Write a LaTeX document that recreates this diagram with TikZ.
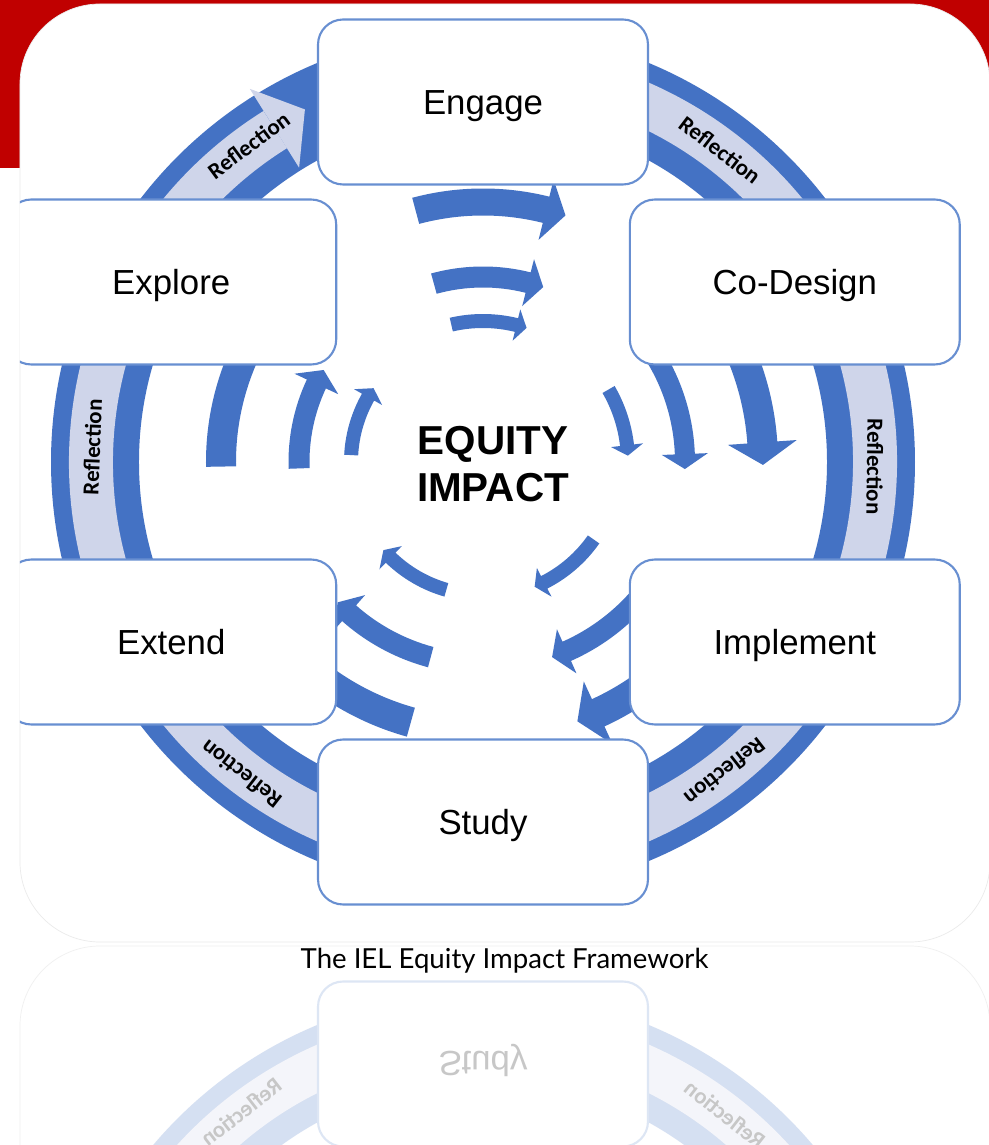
\documentclass[tikz,border=0pt]{standalone}
\usepackage{fontspec}
\setmainfont{Liberation Sans}
\newfontfamily\bandfont{Carlito}
\newfontfamily\capfont{Lato}
\definecolor{ielred}{HTML}{C00000}
\definecolor{cycleblue}{HTML}{4472C4}
\definecolor{bandlight}{HTML}{CFD5EA}
\definecolor{boxline}{RGB}{104,143,209}

\tikzset{
  stage/.style={draw=boxline, line width=1.2pt, fill=white, rounded corners=0.5cm,
    minimum width=6.6cm, minimum height=3.3cm, text height=18.8pt, text depth=4.6pt,
    font=\fontsize{19.8}{24}\selectfont},
  bandtext/.style={font=\bandfont\bfseries\fontsize{13}{15}\selectfont},
}

% curved block arrow round the centre: tail angle, tip angle, radius, shaft width
\newcommand\bendarrow[4]{%
  \pgfmathsetmacro\headbase{#2+42.97*#4/#3}%
  \pgfmathsetmacro\rin{#3-#4/2}%
  \pgfmathsetmacro\rout{#3+#4/2}%
  \pgfmathsetmacro\bin{#3-1.15*#4}%
  \pgfmathsetmacro\bout{#3+1.15*#4}%
  \fill[cycleblue] (#1:\rin) arc[start angle=#1, end angle=\headbase, radius=\rin]
    -- (\headbase:\bin) -- (#2:#3) -- (\headbase:\bout) -- (\headbase:\rout)
    arc[start angle=\headbase, end angle=#1, radius=\rout] -- cycle;
}

\newcommand\ielcycle{%
  % outer ring
  \draw[cycleblue, line width=1.76cm] (0,0) circle[radius=388];
  \draw[bandlight, line width=0.88cm] (122:392) arc[start angle=122, end angle=470, radius=392];
  \fill[bandlight] (122:347) -- (116.8:395) -- (122:440) -- cycle;
  \node[bandtext, rotate=36.5] (refa) at (126.5:394) {Reflection};
  \node[bandtext, rotate=-37.2] (refb) at (52.8:392) {Reflection};
  \node[bandtext, rotate=-90.7] (refc) at (-0.7:392) {Reflection};
  \node[bandtext, rotate=-142] (refd) at (-52:393) {Reflection};
  \node[bandtext, rotate=142.2] (refe) at (-127.8:395) {Reflection};
  \node[bandtext, rotate=87.8] (reff) at (177.8:391) {Reflection};
  % inner arrows
  \bendarrow{105}{71.5}{260}{27}
  \bendarrow{105.4}{71}{185}{21}
  \bendarrow{103}{72}{141}{14}
  \bendarrow{35}{-0.6}{280}{30}
  \bendarrow{32}{-2}{202}{20}
  \bendarrow{30}{2.5}{145}{14}
  \bendarrow{-45}{-70}{276}{30}
  \bendarrow{-38}{-70.5}{207}{21}
  \bendarrow{-35}{-67.5}{135}{14}
  \bendarrow{-105.5}{-142}{270}{30}
  \bendarrow{-105}{-136}{202}{21}
  \bendarrow{-106}{-138.5}{133}{14}
  \bendarrow{181}{145}{262}{30}
  \bendarrow{182}{150}{184}{21}
  \bendarrow{177}{146}{132}{14}
  % stages
  \node[stage] (engage) at (90:360) {Engage};
  \node[stage] (codesign) at (30:360) {Co-Design};
  \node[stage] (implement) at (-30:360) {Implement};
  \node[stage] (study) at (-90:360) {Study};
  \node[stage] (extend) at (-150:360) {Extend};
  \node[stage] (explore) at (150:360) {Explore};
  \node[font=\bfseries\fontsize{23}{27}\selectfont, align=center] (equity) at (10,-2) {EQUITY\\IMPACT};
}

\begin{document}
\begin{tikzpicture}[x=0.02cm, y=0.02cm]
  \useasboundingbox (-483,462) rectangle (506,-683);
  \fill[ielred] (-483,462) rectangle (506,294);
  \fill[white] (-483,294) rectangle (506,-683);
  \filldraw[fill=white, draw=black!8, rounded corners=1.6cm] (-463,458) rectangle (507,-480);
  \begin{scope}
    \clip[rounded corners=1.6cm] (-463,458) rectangle (507,-480);
    \ielcycle
  \end{scope}
  % mirror image under the caption
  \draw[black!6, rounded corners=1.6cm] (-463,-484) rectangle (507,-900);
  \begin{scope}
    \clip[rounded corners=1.6cm] (-463,-484) rectangle (507,-900);
    \begin{scope}[shift={(0,-962)}, yscale=-1, transform shape, opacity=0.22, transparency group]
      \ielcycle
    \end{scope}
  \end{scope}
  \node[font=\capfont\fontsize{15.7}{18}\selectfont, anchor=base] (caption) at (21.5,-506) {The IEL Equity Impact Framework};
\end{tikzpicture}
\end{document}
